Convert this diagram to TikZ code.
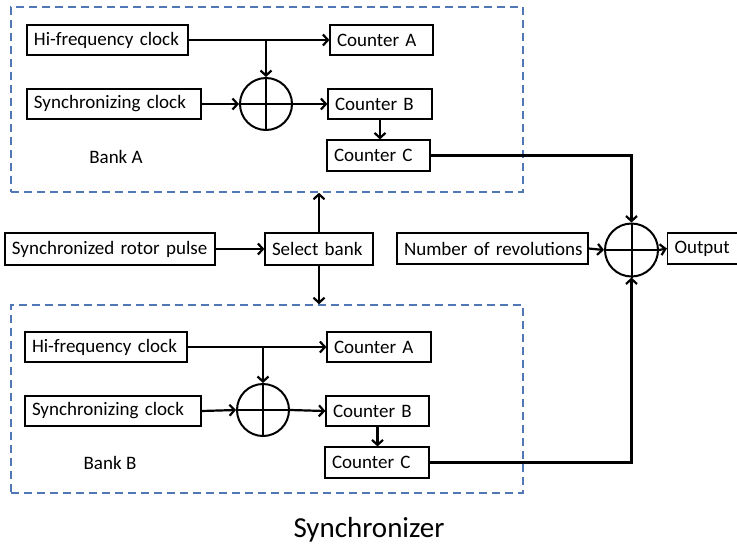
\documentclass[tikz,border=0pt]{standalone}
\usepackage{fontspec}
\setmainfont{Carlito}
\usetikzlibrary{arrows.meta}
\definecolor{bankblue}{RGB}{79,120,180}
\begin{document}
\begin{tikzpicture}[x=1pt,y=-1pt,
  box/.style={draw, line width=1.2pt, minimum height=30pt, inner xsep=7pt, inner ysep=2pt, text width=#1, align=left, font=\fontsize{19}{21}\selectfont},
  sum/.style={draw, circle, line width=2pt, minimum size=52pt, inner sep=0pt},
  bank/.style={draw=bankblue, line width=1.6pt, dash pattern=on 8pt off 5pt},
  arr/.style={line width=2.2pt, -{Straight Barb[length=5pt,width=11pt,line width=2.2pt]}},
  cross/.style={line width=2pt},
  lbl/.style={font=\fontsize{19}{21}\selectfont}]
\useasboundingbox (0,0) rectangle (737,550);

% Bank A
\node[bank, minimum width=512pt, minimum height=185pt] (bankA) at (267,99.5) {};
\node[box=147pt] (hfA) at (107.5,40) {\mbox{Hi-frequency clock}};
\node[box=89pt] (caA) at (381.5,40) {\mbox{Counter A}};
\node[box=160pt] (scA) at (114,104) {\mbox{Synchronizing clock}};
\node[sum] (sA) at (266,104) {};
\draw[cross] (sA.north) -- (sA.south) (sA.west) -- (sA.east);
\node[box=90pt] (cbA) at (380,104) {\mbox{Counter B}};
\node[box=89pt, minimum height=31pt] (ccA) at (378.5,155.5) {\mbox{Counter C}};
\node[lbl] (lA) at (116,157) {Bank A};
\draw[arr] (hfA.east) -- (caA.west);
\draw[arr] (hfA.east -| sA.north) -- (sA.north);
\draw[arr] (scA.east) -- (sA.west);
\draw[arr] (sA.east) -- (cbA.west);
\draw[arr] (cbA.south) -- (cbA.south |- ccA.north);

% Middle row
\node[box=196pt, minimum height=32pt] (rp) at (110,249) {\mbox{Synchronized rotor pulse}};
\node[box=94pt, minimum height=32pt] (sb) at (319,249) {\mbox{Select bank}};
\node[box=177pt, minimum height=31pt] (nr) at (492.5,248.5) {\mbox{Number of revolutions}};
\node[sum, minimum size=53pt] (so) at (631.5,250) {};
\draw[cross] (so.north) -- (so.south) (so.west) -- (so.east);
\node[box=56pt, minimum height=31pt] (out) at (702.5,248.5) {\mbox{Output}};
\draw[arr] (rp.east) -- (sb.west);
\draw[arr] (nr.east) -- (so.west);
\draw[arr] (so.east) -- (out.west);

% Bank B
\node[bank, minimum width=512pt, minimum height=188pt] (bankB) at (267,399) {};
\node[box=148pt] (hfB) at (106,347) {\mbox{Hi-frequency clock}};
\node[box=90pt] (caB) at (379,347) {\mbox{Counter A}};
\node[box=162pt] (scB) at (113,411) {\mbox{Synchronizing clock}};
\node[sum] (sB) at (263,410) {};
\draw[cross] (sB.north) -- (sB.south) (sB.west) -- (sB.east);
\node[box=89pt] (cbB) at (377.5,411) {\mbox{Counter B}};
\node[box=90pt, minimum height=31pt] (ccB) at (377,462.5) {\mbox{Counter C}};
\node[lbl] (lB) at (110,463) {Bank B};
\draw[arr] (hfB.east) -- (caB.west);
\draw[arr] (hfB.east -| sB.north) -- (sB.north);
\draw[arr] (scB.east) -- (sB.west);
\draw[arr] (sB.east) -- (cbB.west);
\draw[arr] (cbB.south) -- (cbB.south |- ccB.north);

% Select bank to banks
\draw[arr] (sb.north) -- (sb.north |- bankA.south);
\draw[arr] (sb.south) -- (sb.south |- bankB.north);

% Counter C to output sum
\draw[arr] (ccA.east) -| (so.north);
\draw[arr] (ccB.east) -| (so.south);

\node[font=\fontsize{29}{32}\selectfont] (title) at (369,530) {Synchronizer};
\end{tikzpicture}
\end{document}
